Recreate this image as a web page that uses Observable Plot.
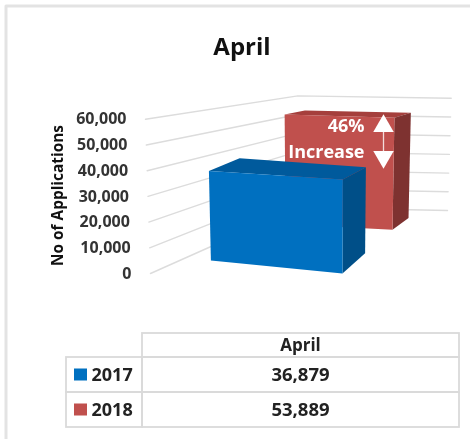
<!DOCTYPE html>
<html><head><meta charset="utf-8">
<script src="https://cdn.jsdelivr.net/npm/d3@7"></script>
<script src="https://cdn.jsdelivr.net/npm/@observablehq/plot@0.6"></script>
<style>html,body{margin:0;background:#fff}svg{display:block;filter:blur(.55px)}</style>
</head><body><div id="chart"></div>
<script>
// ---- data ----
const months = ["April"];
const years = ["2017", "2018"];
const applications = [36879, 53889];
const axisTicks = [0, 10000, 20000, 30000, 40000, 50000, 60000];
const titleText = "April";
const yTitle = "No of Applications";
const noteLines = ["46%", "Increase"];

// ---- oblique 3D view: floor (u across, d depth) plus height ----
const W = 470, H = 439;
const floor = {A: [150, 273, 25.7], B: [298, 207, 18.6], C: [447, 210, 18.7], D: [350, 293, 27.6]};
const vanishX = 320, lean = 0.0049;
function project(u, d, v) {
  const mix = i => (1 - d) * ((1 - u) * floor.A[i] + u * floor.D[i]) + d * ((1 - u) * floor.B[i] + u * floor.C[i]);
  const px = mix(0), py = mix(1), s = mix(2), t = v / 10000;
  return {px: px + (px - vanishX) * t * lean, py: py - t * s};
}
// footprint corners on the floor: front-left, front-right, back-right, back-left
const slots = [
  {foot: [[0.14, 0.23], [0.85, 0.21], [0.83, 0.46], [0.07, 0.53]], front: "#0070c0", top: "#005a9c", side: "#004f88"},
  {foot: [[0.14, 0.76], [0.81, 0.75], [0.81, 0.90], [0.14, 0.90]], front: "#c0504d", top: "#a53f3c", side: "#7e3230"}
];
const faces = [];
function face(id, color, corners) { for (const c of corners) faces.push({id, color, ...project(...c)}); }
for (const i of [1, 0]) {
  const {foot: [fl, fr, br, bl], front, top, side} = slots[i], v = applications[i];
  face(i + "top", top, [fl, fr, br, bl].map(c => [...c, v]));
  face(i + "side", side, [[...fr, v], [...br, v], [...br, 0], [...fr, 0]]);
  face(i + "front", front, [[...fl, v], [...fr, v], [...fr, 0], [...fl, 0]]);
}
const grid = axisTicks.flatMap(v => [[0, 0], [0, 1], [1, 1]].map(([u, d]) => ({v, ...project(u, d, v)})));
const tickPos = axisTicks.map(v => ({v, ...project(0, 0, v)}));

// ---- table layout ----
const tbl = {left: 66, col: 142, right: 459, rows: [333, 357, 392, 427]};
const cellRects = [
  {x1: tbl.col, x2: tbl.right, y1: tbl.rows[0], y2: tbl.rows[1]},
  ...years.flatMap((_, i) => [
    {x1: tbl.left, x2: tbl.col, y1: tbl.rows[i + 1], y2: tbl.rows[i + 2]},
    {x1: tbl.col, x2: tbl.right, y1: tbl.rows[i + 1], y2: tbl.rows[i + 2]}
  ])
];
const rows = years.map((y, i) => ({y, value: applications[i], color: slots[i].front, mid: (tbl.rows[i + 1] + tbl.rows[i + 2]) / 2}));

const font = {fontFamily: "'Open Sans'", fontWeight: 700};
const colX = (tbl.col + tbl.right) / 2 - 0.5;
const arrowX = 383;

const plot = Plot.plot({
  width: W, height: H, margin: 0,
  x: {domain: [0, W], range: [0, W], axis: null},
  y: {domain: [0, H], range: [0, H], axis: null},
  color: {type: "identity"},
  style: {background: "#fff"},
  marks: [
    Plot.line([[470, 5.5], [5.5, 5.5], [5.5, H]], {stroke: "#e3e3e3", strokeWidth: 3}),
    Plot.text([titleText], {x: () => 241.5, y: () => 47, fontSize: 24, fill: "#111", ...font}),
    Plot.line(grid, {x: "px", y: "py", z: "v", stroke: "#dcdcdc", strokeWidth: 1.4}),
    Plot.text(tickPos, {x: d => d.px - 19, y: "py", text: d => d3.format(",")(d.v), textAnchor: "end", fontSize: 16, fill: "#333", ...font}),
    Plot.text([yTitle], {x: () => 58, y: () => 195, rotate: -90, fontSize: 15.4, fill: "#111", ...font}),
    Plot.line(faces, {x: "px", y: "py", z: "id", fill: "color", stroke: "none"}),
    Plot.text(noteLines, {x: () => 364, y: (_, i) => [126, 152][i], textAnchor: "end", fontSize: 18, fill: "#fff", ...font}),
    Plot.ruleX([arrowX], {y1: 122, y2: 160, stroke: "#fff", strokeOpacity: 0.8, strokeWidth: 1.3}),
    Plot.dot([0, 1], {x: () => arrowX, y: (_, i) => [125.5, 156.5][i], symbol: "triangle", r: 7.6, fill: "#fff", stroke: "none", rotate: (_, i) => [0, 180][i]}),
    Plot.rect(cellRects, {x1: "x1", x2: "x2", y1: "y1", y2: "y2", fill: "none", stroke: "#dadada", strokeWidth: 1.8}),
    Plot.text(months, {x: () => colX, y: () => (tbl.rows[0] + tbl.rows[1]) / 2, fontSize: 17, fill: "#222", ...font}),
    Plot.rect(rows, {x1: () => 74, x2: () => 87, y1: d => d.mid - 6, y2: d => d.mid + 6, fill: "color"}),
    Plot.text(rows, {x: () => 91, y: "mid", text: "y", textAnchor: "start", fontSize: 18, fill: "#222", ...font}),
    Plot.text(rows, {x: () => colX, y: "mid", text: d => d3.format(",")(d.value), fontSize: 18.5, fill: "#222", ...font})
  ]
});
document.getElementById("chart").append(plot);
</script></body></html>
